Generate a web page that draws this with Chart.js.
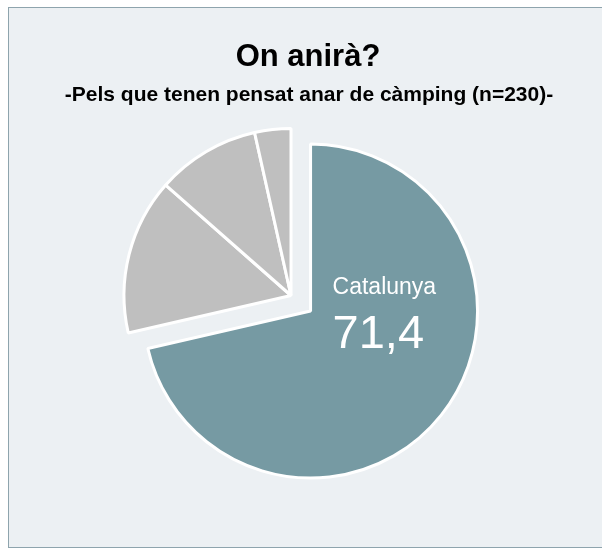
<!DOCTYPE html>
<html>
<head>
<meta charset="utf-8">
<script src="https://cdn.jsdelivr.net/npm/chart.js@4.4.1/dist/chart.umd.min.js"></script>
<style>
    body { margin: 0; background: #fff; overflow: hidden; }
    #panel {
        position: absolute; left: 8px; top: 7px;
        width: 620px; height: 539px;
        background: #ECF0F3;
        border: 1px solid #8EA4AD;
    }
    #wrap { position: absolute; left: 0; top: 0; width: 602px; height: 548px; }
</style>
</head>
<body>
<div id="panel"></div>
<div id="wrap"><canvas id="pie-chart" width="602" height="548"></canvas></div>
<script>
// data
var labels = ["Catalunya", "Resta d'Espanya", "Estranger", "No ho sap"];
var values = [71.4, 15.1, 10.0, 3.5];
var colors = ["#769AA3", "#BFBFBF", "#BFBFBF", "#BFBFBF"];
var title = "On anirà?";
var subtitle = "-Pels que tenen pensat anar de càmping (n=230)-";

// pull the first slice out of the pie
var explode = {
    id: 'explode',
    afterDatasetUpdate: function (chart, args) {
        var el = args.meta.data[0];
        var mid = (el.startAngle + el.endAngle) / 2;
        el.x += 25 * Math.cos(mid);
        el.y += 25 * Math.sin(mid);
    }
};

// title, subtitle and the label on the big slice
var texts = {
    id: 'texts',
    afterDraw: function (chart) {
        var ctx = chart.ctx;
        ctx.save();
        ctx.fillStyle = "#000";
        ctx.textAlign = "center";
        ctx.textBaseline = "alphabetic";
        ctx.font = "bold 31px 'Liberation Sans', Arial, sans-serif";
        ctx.fillText(title, 308, 66);
        ctx.font = "bold 21px 'Liberation Sans', Arial, sans-serif";
        ctx.fillText(subtitle, 309, 101);

        var el = chart.getDatasetMeta(0).data[0];
        ctx.fillStyle = "#fff";
        ctx.textAlign = "left";
        ctx.font = "23px 'Liberation Sans', Arial, sans-serif";
        ctx.fillText(labels[0], el.x + 22, el.y - 17);
        ctx.font = "47px 'Liberation Sans', Arial, sans-serif";
        ctx.fillText(String(values[0]).replace(".", ","), el.x + 22, el.y + 37);
        ctx.restore();
    }
};

var pieData = {
    labels: labels,
    datasets: [
        {
            data: values,
            backgroundColor: colors,
            borderColor: "#fff",
            borderWidth: 3,
            hoverOffset: 0
        }]
};

new Chart(document.getElementById("pie-chart"), {
    type: 'pie',
    data: pieData,
    options: {
        responsive: false,
        animation: false,
        events: [],
        radius: 167,
        layout: { padding: { left: 100, right: 120, top: 120, bottom: 77 } },
        plugins: {
            legend: { display: false },
            tooltip: { enabled: false }
        }
    },
    plugins: [explode, texts]
});
</script>
</body>
</html>
